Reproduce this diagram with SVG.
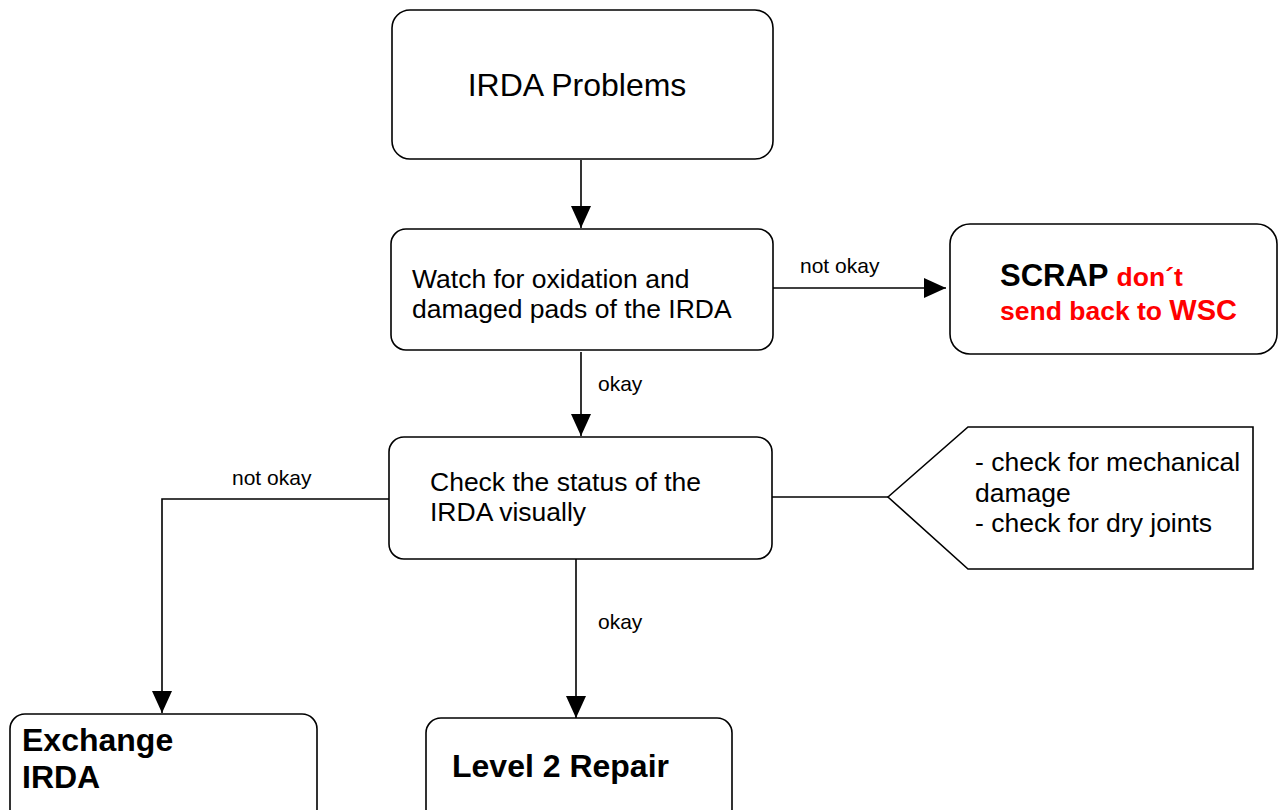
<svg xmlns="http://www.w3.org/2000/svg" width="1282" height="810" viewBox="0 0 1282 810">
<style>
.box{fill:#fff;stroke:#000;stroke-width:1.6}
.t{font-family:"Liberation Sans",Arial,sans-serif;fill:#000}
.n{font-size:26.5px}
.lbl{font-size:21px}
.b{font-weight:bold}
.red{fill:#f00}
.c{fill:none;stroke:#000;stroke-width:1.6}
</style>
<defs>
<marker id="arr" markerUnits="userSpaceOnUse" markerWidth="24" markerHeight="20" refX="22" refY="10" orient="auto">
<path d="M0,0 L22,10 L0,20 Z" fill="#000"/>
</marker>
</defs>
<rect width="1282" height="810" fill="#fff"/>
<g id="connectors">
<line class="c" x1="581" y1="160" x2="581" y2="228" marker-end="url(#arr)"/>
<line class="c" x1="773" y1="288" x2="946" y2="288" marker-end="url(#arr)"/>
<line class="c" x1="581" y1="352" x2="581" y2="436" marker-end="url(#arr)"/>
<polyline class="c" points="390,499 162,499 162,713" marker-end="url(#arr)"/>
<line class="c" x1="772" y1="497" x2="888" y2="497"/>
<line class="c" x1="576" y1="559" x2="576" y2="718" marker-end="url(#arr)"/>
<text class="t lbl" x="800" y="273">not okay</text>
<text class="t lbl" x="598" y="391">okay</text>
<text class="t lbl" x="232" y="485">not okay</text>
<text class="t lbl" x="598" y="629">okay</text>
</g>
<g id="n1">
<rect class="box" x="392" y="10" width="381" height="149" rx="18"/>
<text class="t" x="577" y="96" font-size="32" text-anchor="middle">IRDA Problems</text>
</g>
<g id="n2">
<rect class="box" x="391" y="229" width="382" height="121" rx="15"/>
<text class="t n" x="412" y="288">Watch for oxidation and</text>
<text class="t n" x="412" y="318">damaged pads of the IRDA</text>
</g>
<g id="n3">
<rect class="box" x="950" y="224" width="327" height="130" rx="20"/>
<text class="t b" x="1000" y="286" font-size="31">SCRAP <tspan class="red" font-size="26.5">don´t</tspan></text>
<text class="t b red" x="1000" y="320" font-size="26.5">send back to <tspan font-size="29">WSC</tspan></text>
</g>
<g id="n4">
<rect class="box" x="389" y="437" width="383" height="122" rx="15"/>
<text class="t n" x="430" y="491">Check the status of the</text>
<text class="t n" x="430" y="521">IRDA visually</text>
</g>
<g id="n5">
<polygon class="box" points="888,497 968,427 1253,427 1253,569 968,569"/>
<text class="t n" x="975" y="471">- check for mechanical</text>
<text class="t n" x="975" y="502">damage</text>
<text class="t n" x="975" y="532">- check for dry joints</text>
</g>
<g id="n6">
<rect class="box" x="10" y="714" width="307" height="110" rx="15"/>
<text class="t b" x="22" y="751" font-size="32">Exchange</text>
<text class="t b" x="22" y="788" font-size="32">IRDA</text>
</g>
<g id="n7">
<rect class="box" x="426" y="718" width="306" height="106" rx="15"/>
<text class="t b" x="452" y="777" font-size="32">Level 2 Repair</text>
</g>
</svg>
